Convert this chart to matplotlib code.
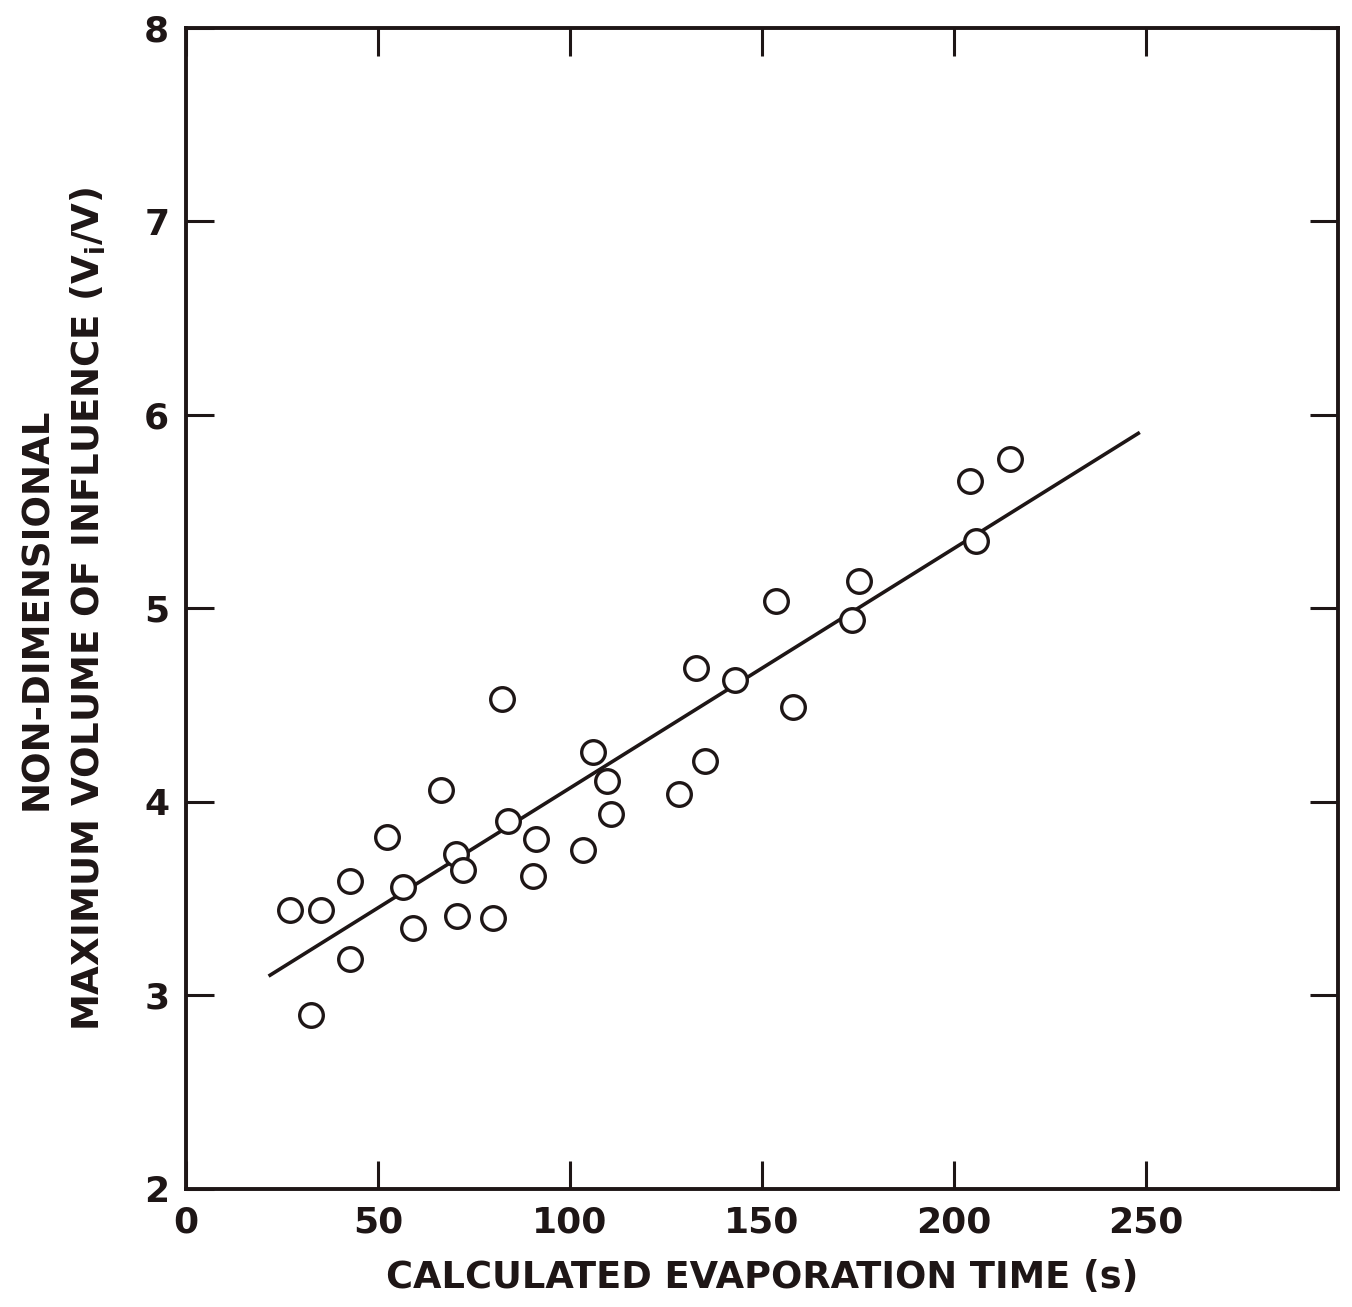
import matplotlib.pyplot as plt
import numpy as np

# measured points (evaporation time in s, Vi/V)
evap_time = [27.2, 35.2, 32.6, 42.7, 42.7, 52.3, 56.4, 59.0, 66.5, 70.4,
             70.6, 72.2, 79.9, 82.3, 83.8, 91.1, 90.3, 103.5, 106.1, 109.7,
             110.7, 128.3, 132.7, 135.1, 143.1, 153.7, 158.1, 173.4, 175.2,
             204.1, 205.7, 214.5]
vol_ratio = [3.44, 3.44, 2.90, 3.59, 3.19, 3.82, 3.56, 3.35, 4.06, 3.73,
             3.41, 3.65, 3.40, 4.53, 3.90, 3.81, 3.62, 3.75, 4.26, 4.11,
             3.94, 4.04, 4.69, 4.21, 4.63, 5.04, 4.49, 4.94, 5.14,
             5.66, 5.35, 5.77]

# fitted line end points
fit_x = [21.5, 248.4]
fit_y = [3.10, 5.91]

x_ticks = [0, 50, 100, 150, 200, 250]
y_ticks = [2, 3, 4, 5, 6, 7, 8]

ink = '#1e1616'
plt.rcParams['font.family'] = ['DejaVu Sans']

fig = plt.figure(figsize=(13.52, 13.07), dpi=100)
ax = fig.add_axes([0.1376, 0.0903, 0.852, 0.8883])

ax.plot(fit_x, fit_y, color=ink, lw=2.6, solid_capstyle='butt', zorder=2)
ax.plot(evap_time, vol_ratio, 'o', ms=17, mfc='white', mec=ink, mew=2.4, zorder=3)

ax.set_xlim(0, 300)
ax.set_ylim(2, 8)
ax.set_xticks(x_ticks)
ax.set_yticks(y_ticks)
ax.tick_params(direction='in', length=20, width=2.2, color=ink,
               top=True, right=True, labelsize=26, pad=12, labelcolor=ink)
for lab in ax.get_xticklabels() + ax.get_yticklabels():
    lab.set_fontweight('bold')
for s in ax.spines.values():
    s.set_linewidth(2.8)
    s.set_color(ink)

ax.set_xlabel('CALCULATED EVAPORATION TIME (s)', fontsize=26.5, fontweight='bold',
              color=ink, labelpad=14)
ax.set_ylabel('NON-DIMENSIONAL\nMAXIMUM VOLUME OF INFLUENCE (V$_\\mathregular{i}$/V)',
              fontsize=26.7, fontweight='bold', color=ink, labelpad=26, linespacing=1.45)

fig.savefig('out.png', dpi=100)
